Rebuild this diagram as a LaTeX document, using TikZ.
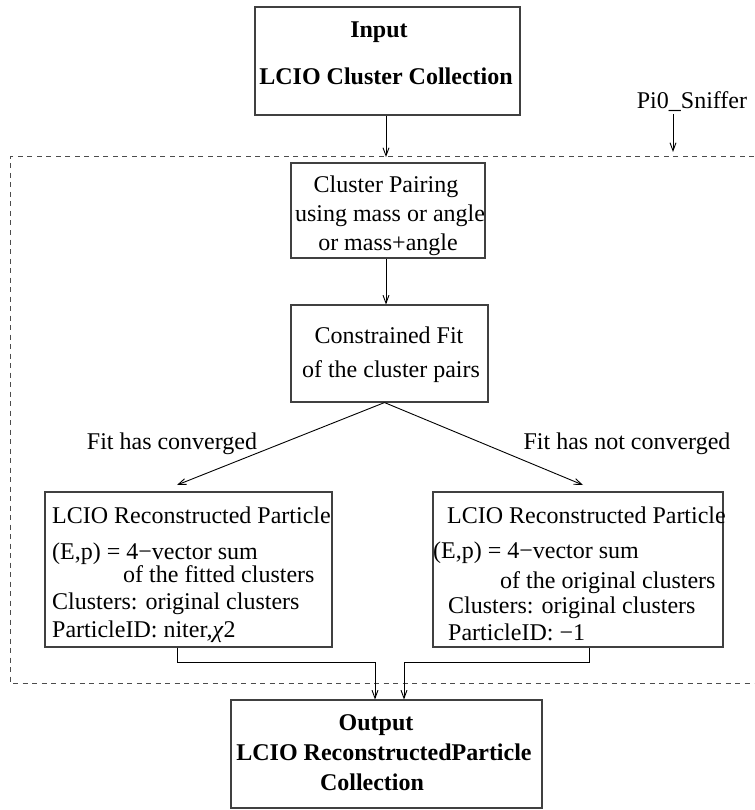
\documentclass[tikz,border=0pt]{standalone}
\usepackage{fontspec}
\setmainfont{Liberation Serif}
\usetikzlibrary{arrows.meta}
\begin{document}
\begin{tikzpicture}[x=1pt,y=-1pt,
  every node/.style={font=\fontsize{24}{28}\selectfont},
  boxstyle/.style={draw=black!75,line width=1.1pt,inner sep=0pt,rectangle},
  txt/.style={inner sep=0pt,anchor=base},
  ltxt/.style={inner sep=0pt,anchor=base west},
  flow/.style={draw=black,line width=0.9pt,-{Straight Barb[length=8pt,width=6pt]}},
  frame/.style={draw=black!70,line width=1pt,dash pattern=on 5pt off 4.5pt}]
\useasboundingbox (0,0) rectangle (754,810);

% dashed frame of the Pi0_Sniffer processor (open on the right)
\draw[frame] (754,157) -- (10,157) -- (10,683) -- (754,683);
\coordinate (frameTop) at (386,157);
\coordinate (frameMark) at (673,152);
\node[txt] (sniff) at (692,109) {Pi0\_Sniffer};
\draw[flow] (673,114) -- (frameMark);

% boxes
\node[boxstyle,minimum width=265pt,minimum height=108pt] (Input) at (387.5,61) {};
\node[boxstyle,minimum width=194pt,minimum height=95pt] (Pair) at (388,210.5) {};
\node[boxstyle,minimum width=197pt,minimum height=97pt] (Fit) at (389.5,353.5) {};
\node[boxstyle,minimum width=287pt,minimum height=155pt] (Left) at (188.5,569.5) {};
\node[boxstyle,minimum width=290pt,minimum height=155pt] (Right) at (578,569.5) {};
\node[boxstyle,minimum width=311pt,minimum height=108pt] (Output) at (386.5,754) {};

% input text
\node[txt,font=\fontsize{24}{28}\selectfont\bfseries] (inA) at (379,38) {Input};
\node[txt,font=\fontsize{24}{28}\selectfont\bfseries] (inB) at (386,85) {LCIO Cluster Collection};

% pairing text
\node[txt] (prA) at (386,193) {Cluster Pairing};
\node[txt] (prB) at (390,222) {using mass or angle};
\node[txt] (prC) at (388,250) {or mass+angle};

% fit text
\node[txt] (ftA) at (389,343) {Constrained Fit};
\node[txt] (ftB) at (391,377) {of the cluster pairs};

% branch labels
\node[txt] (cvA) at (172,449) {Fit has converged};
\node[txt] (cvB) at (627,449) {Fit has not converged};

% converged particle
\node[ltxt] (lA) at (52,523) {LCIO Reconstructed Particle};
\node[ltxt] (lB) at (52,559) {(E,p) = 4−vector sum};
\node[ltxt] (lC) at (123,582) {of the fitted clusters};
\node[ltxt] (lD) at (52,609) {Clusters: original clusters};
\node[ltxt] (lE) at (52,637) {ParticleID: niter,\textit{χ}2};

% not converged particle
\node[ltxt] (rA) at (447,523) {LCIO Reconstructed Particle};
\node[ltxt] (rB) at (433,558) {(E,p) = 4−vector sum};
\node[ltxt] (rC) at (500,588) {of the original clusters};
\node[ltxt] (rD) at (448,613) {Clusters: original clusters};
\node[ltxt] (rE) at (448,640) {ParticleID: −1};

% output text
\node[txt,font=\fontsize{24}{28}\selectfont\bfseries] (outA) at (376,730) {Output};
\node[txt,font=\fontsize{24}{28}\selectfont\bfseries] (outB) at (384,760) {LCIO ReconstructedParticle};
\node[txt,font=\fontsize{24}{28}\selectfont\bfseries] (outC) at (372,790) {Collection};

% connectors
\coordinate (lTip) at (177,485);
\coordinate (rTip) at (583,485);
\draw[flow] ([xshift=-1.5pt]Input.south) -- (frameTop);
\draw[flow] ([xshift=-2pt]Pair.south) -- ([xshift=-2pt]Pair.south |- Fit.north);
\draw[flow] ([xshift=-5pt]Fit.south) -- (lTip);
\draw[flow] ([xshift=-5pt]Fit.south) -- (rTip);
\draw[flow] ([xshift=-11.5pt]Left.south) -- ++(0,15) -| ([xshift=-11.5pt]Output.north);
\draw[flow] ([xshift=11pt]Right.south) -- ++(0,15) -| ([xshift=17.5pt]Output.north);
\end{tikzpicture}
\end{document}
